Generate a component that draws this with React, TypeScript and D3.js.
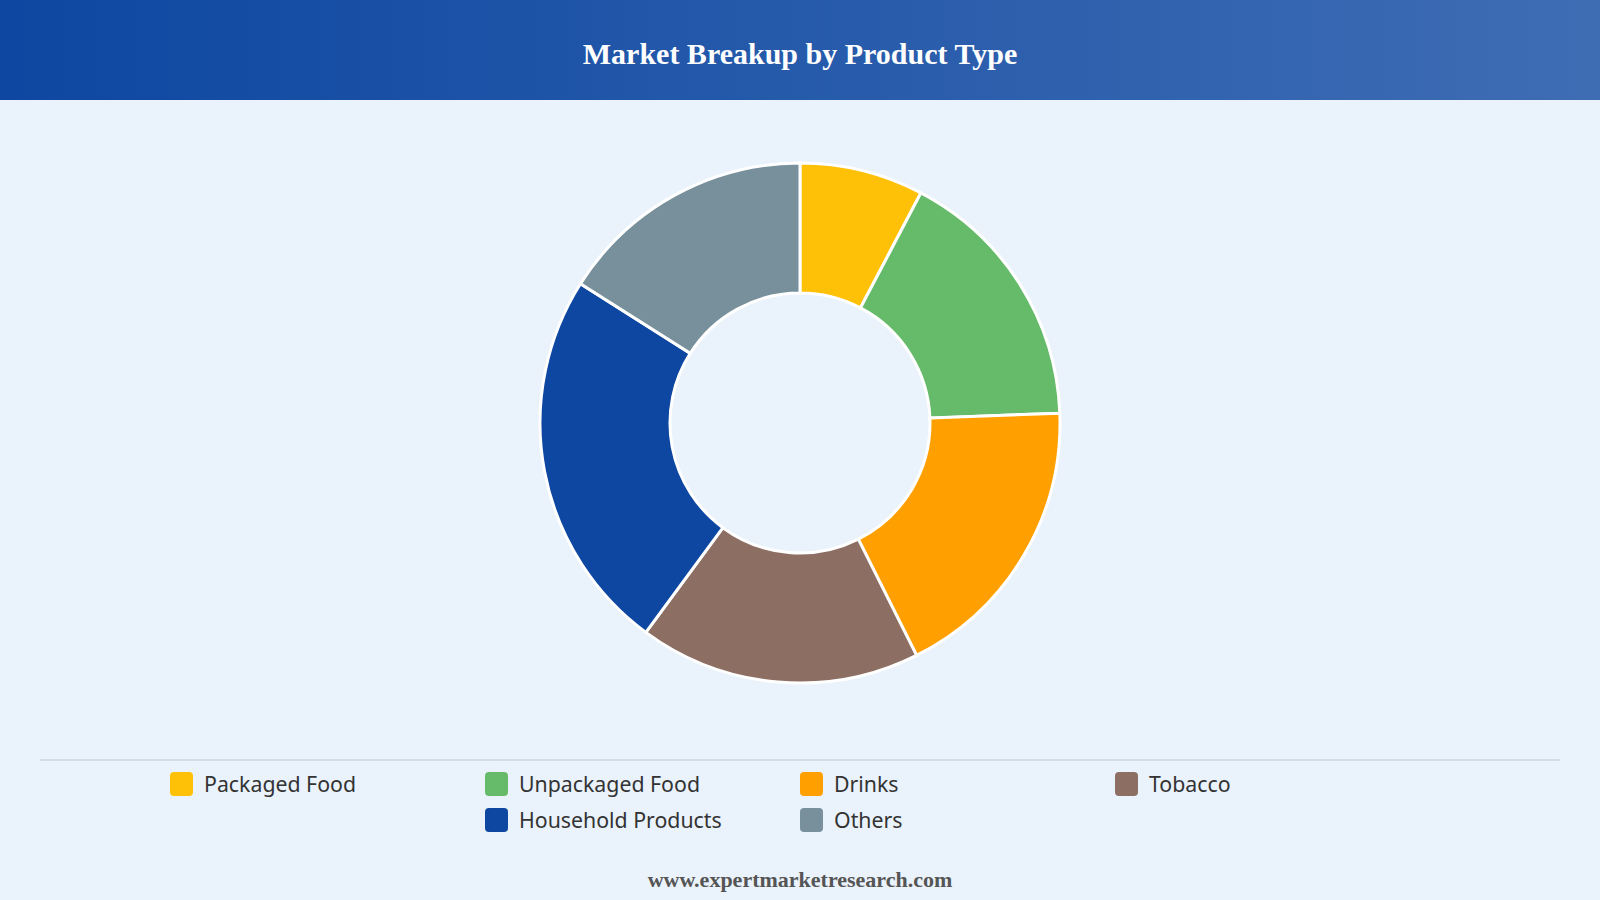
import React from "react";
import * as d3 from "d3";

const categories = ["Packaged Food", "Unpackaged Food", "Drinks", "Tobacco", "Household Products", "Others"];
const values = [7.7, 16.7, 18.2, 17.5, 23.9, 16.0];
const colors = ["#FFC107", "#66BB6A", "#FFA000", "#8D6E63", "#0D47A1", "#78909C"];

const W = 1600;
const H = 900;

export default function App() {
  const cx = 800, cy = 423, outerR = 260, innerR = 130;
  const pie = d3.pie<number>().sort(null).value((d) => d)(values);
  const arc = d3.arc<d3.PieArcDatum<number>>().innerRadius(innerR).outerRadius(outerR);

  const legendX = d3.scalePoint<number>().domain([0, 1, 2, 3]).range([170, 1115]);
  const legendY = [784, 820];

  return (
    <svg width={W} height={H} style={{ position: "absolute", left: 0, top: 0 }}>
      <defs>
        <linearGradient id="hdr" x1="0" x2="1" y1="0" y2="0">
          <stop offset="0%" stopColor="#0D47A1" />
          <stop offset="100%" stopColor="#3F6DB4" />
        </linearGradient>
      </defs>
      <rect x={0} y={0} width={W} height={H} fill="#EAF2FB" />
      <rect x={0} y={0} width={W} height={100} fill="url(#hdr)" />
      <text x={800} y={64} textAnchor="middle" fill="#fff" fontFamily="'Liberation Serif', 'Times New Roman', serif" fontWeight="bold" fontSize={30}>
        Market Breakup by Product Type
      </text>
      <g transform={`translate(${cx},${cy})`}>
        {pie.map((p, i) => (
          <path key={i} d={arc(p) || ""} fill={colors[i]} stroke="#fff" strokeWidth={3} />
        ))}
      </g>
      <line x1={40} x2={1560} y1={760} y2={760} stroke="#D6DCE3" strokeWidth={2} />
      {categories.map((c, i) => {
        const col = i % 4;
        const row = Math.floor(i / 4);
        const x = legendX(i < 4 ? col : col + 1)!;
        const y = legendY[row];
        return (
          <g key={c}>
            <rect x={x} y={y - 12} width={23} height={24} rx={4} fill={colors[i]} />
            <text x={x + 34} y={y + 8} fontFamily="'Noto Sans', 'Open Sans', sans-serif" fontSize={21.3} fill="#333">
              {c}
            </text>
          </g>
        );
      })}
      <text x={800} y={887} textAnchor="middle" fill="#555" fontFamily="'Liberation Serif', 'Times New Roman', serif" fontWeight="bold" fontSize={22}>
        www.expertmarketresearch.com
      </text>
    </svg>
  );
}
